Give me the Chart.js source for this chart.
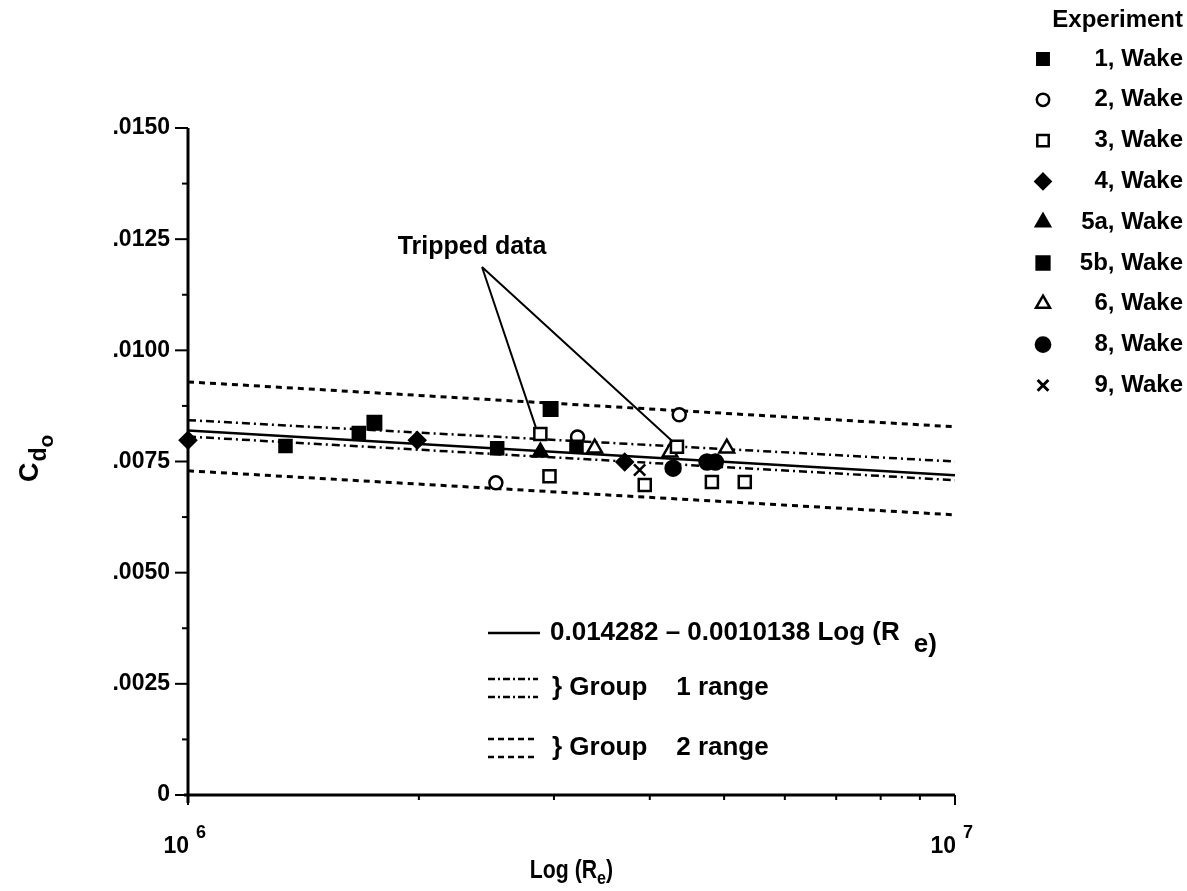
<!DOCTYPE html>
<html>
<head>
<meta charset="utf-8">
<title>Cdo vs Log(Re)</title>
<script src="https://cdn.jsdelivr.net/npm/chart.js@4.4.1/dist/chart.umd.min.js"></script>
<style>
  html, body { margin: 0; padding: 0; background: #fff; }
  #wrap { position: relative; width: 1187px; height: 891px; }
</style>
</head>
<body>
<div id="wrap"><canvas id="cdChart" width="1187" height="891"></canvas></div>
<script>
// Wake survey drag coefficients, one pair of arrays per experiment
const exp1Re = [1.34e6, 1.67e6, 2.53e6, 3.21e6];
const exp1Cd = [0.00785, 0.00814, 0.0078, 0.00783];
const exp2Re = [2.52e6, 3.22e6, 4.37e6];
const exp2Cd = [0.00702, 0.00805, 0.00855];
const exp3Re = [2.88e6, 2.96e6, 3.94e6, 4.34e6, 4.82e6, 5.32e6];
const exp3Cd = [0.00812, 0.00717, 0.00697, 0.00783, 0.00704, 0.00704];
const exp4Re = [1.0e6, 1.99e6, 3.71e6];
const exp4Cd = [0.00798, 0.00798, 0.00749];
const exp5aRe = [2.88e6];
const exp5aCd = [0.00771];
const exp5bRe = [1.75e6, 2.97e6];
const exp5bCd = [0.00837, 0.00868];
const exp6Re = [3.39e6, 4.25e6, 5.04e6];
const exp6Cd = [0.0078, 0.00771, 0.0078];
const exp8Re = [4.29e6, 4.75e6, 4.87e6];
const exp8Cd = [0.00735, 0.00749, 0.00749];
const exp9Re = [3.88e6];
const exp9Cd = [0.00731];

// Curve fit and band limits at both ends of the Re axis
const lineRe = [1e6, 1e7];
const fitCd = [0.0082, 0.00719];
const group1UpperCd = [0.00843, 0.0075];
const group1LowerCd = [0.00806, 0.00708];
const group2UpperCd = [0.00929, 0.00828];
const group2LowerCd = [0.00729, 0.0063];

// Tripped runs called out by the annotation
const trippedRe = [2.88e6, 4.34e6];
const trippedCd = [0.00812, 0.00783];

const legendLabels = ["1, Wake", "2, Wake", "3, Wake", "4, Wake", "5a, Wake", "5b, Wake", "6, Wake", "8, Wake", "9, Wake"];
const fitLabel = "0.014282 \u2013 0.0010138 Log (R";
const group1Label = "} Group    1 range";
const group2Label = "} Group    2 range";

const FONT = '"Liberation Sans", Arial, Helvetica, sans-serif';
const INK = "#000";

function boldFont(size) {
  return "bold " + size + "px " + FONT;
}

function toPoints(xs, ys) {
  return xs.map((x, i) => ({ x: x, y: ys[i] }));
}

// marker look per experiment (same order as legendLabels)
const markerStyles = [
  { pointStyle: "rect", radius: 8.5, fill: INK },
  { pointStyle: "circle", radius: 6.5, fill: "#fff" },
  { pointStyle: "rect", radius: 8.5, fill: "#fff" },
  { pointStyle: "rectRot", radius: 8, fill: INK },
  { pointStyle: "triangle", radius: 8.5, fill: INK },
  { pointStyle: "rect", radius: 9.5, fill: INK },
  { pointStyle: "triangle", radius: 8.5, fill: "#fff" },
  { pointStyle: "circle", radius: 7.5, fill: INK },
  { pointStyle: "crossRot", radius: 8, fill: INK },
];

const seriesPoints = [
  toPoints(exp1Re, exp1Cd),
  toPoints(exp2Re, exp2Cd),
  toPoints(exp3Re, exp3Cd),
  toPoints(exp4Re, exp4Cd),
  toPoints(exp5aRe, exp5aCd),
  toPoints(exp5bRe, exp5bCd),
  toPoints(exp6Re, exp6Cd),
  toPoints(exp8Re, exp8Cd),
  toPoints(exp9Re, exp9Cd),
];

function scatterSet(i) {
  const s = markerStyles[i];
  return {
    type: "scatter",
    label: legendLabels[i],
    data: seriesPoints[i],
    pointStyle: s.pointStyle,
    pointRadius: s.radius,
    pointHoverRadius: s.radius,
    pointBorderWidth: 2.5,
    pointBorderColor: INK,
    pointBackgroundColor: s.fill,
    clip: false,
    order: 0,
  };
}

function lineSet(label, ys, dash, width) {
  return {
    type: "line",
    label: label,
    data: toPoints(lineRe, ys),
    borderColor: INK,
    borderWidth: width,
    borderDash: dash,
    pointRadius: 0,
    fill: false,
    order: 1,
  };
}

// Small marker painter for the side legend
function drawMarker(ctx, style, x, y, scale) {
  const r = style.radius * scale;
  ctx.save();
  ctx.lineWidth = 2.5;
  ctx.strokeStyle = INK;
  ctx.fillStyle = style.fill;
  ctx.beginPath();
  if (style.pointStyle === "circle") {
    ctx.arc(x, y, r, 0, Math.PI * 2);
  } else if (style.pointStyle === "rect") {
    const h = r * Math.SQRT1_2;
    ctx.rect(x - h, y - h, 2 * h, 2 * h);
  } else if (style.pointStyle === "rectRot") {
    ctx.moveTo(x, y - r);
    ctx.lineTo(x + r, y);
    ctx.lineTo(x, y + r);
    ctx.lineTo(x - r, y);
    ctx.closePath();
  } else if (style.pointStyle === "triangle") {
    ctx.moveTo(x, y - r);
    ctx.lineTo(x + r * 0.866, y + r * 0.5);
    ctx.lineTo(x - r * 0.866, y + r * 0.5);
    ctx.closePath();
  } else if (style.pointStyle === "crossRot") {
    const h = r * Math.SQRT1_2;
    ctx.moveTo(x - h, y - h);
    ctx.lineTo(x + h, y + h);
    ctx.moveTo(x + h, y - h);
    ctx.lineTo(x - h, y + h);
    ctx.lineWidth = 3;
    ctx.stroke();
    ctx.restore();
    return;
  }
  ctx.fill();
  ctx.stroke();
  ctx.restore();
}

function drawSample(ctx, x0, x1, y, dash, width) {
  ctx.save();
  ctx.strokeStyle = INK;
  ctx.lineWidth = width;
  ctx.setLineDash(dash);
  ctx.beginPath();
  ctx.moveTo(x0, y);
  ctx.lineTo(x1, y);
  ctx.stroke();
  ctx.restore();
}

// Axes, ticks, titles, legends and the "Tripped data" callout
const decorations = {
  id: "decorations",
  afterDraw(chart) {
    const ctx = chart.ctx;
    const xs = chart.scales.x;
    const ys = chart.scales.y;
    const area = chart.chartArea;

    ctx.save();
    ctx.strokeStyle = INK;
    ctx.fillStyle = INK;

    // axis lines
    ctx.lineWidth = 3;
    ctx.beginPath();
    ctx.moveTo(area.left, area.top);
    ctx.lineTo(area.left, area.bottom + 8);
    ctx.moveTo(area.left - 4, area.bottom);
    ctx.lineTo(area.right, area.bottom);
    ctx.stroke();

    // y ticks: long at labelled values, short in between
    ctx.lineWidth = 2;
    ys.ticks.forEach((t) => {
      const py = ys.getPixelForValue(t.value);
      const major = Math.round(t.value / 0.00125) % 2 === 0;
      ctx.beginPath();
      ctx.moveTo(area.left - (major ? 13 : 6), py);
      ctx.lineTo(area.left, py);
      ctx.stroke();
    });

    // x ticks at whole multiples of 10^6 only
    xs.ticks.forEach((t) => {
      const m = t.value / 1e6;
      if (Math.abs(m - Math.round(m)) > 1e-6) return;
      const px = xs.getPixelForValue(t.value);
      const decade = m === 1 || m === 10;
      ctx.beginPath();
      ctx.moveTo(px, area.bottom);
      ctx.lineTo(px, area.bottom + (decade ? 10 : 5));
      ctx.stroke();
    });

    // decade labels 10^6 and 10^7
    ctx.textBaseline = "alphabetic";
    [1e6, 1e7].forEach((v) => {
      const px = xs.getPixelForValue(v);
      ctx.font = boldFont(23);
      ctx.textAlign = "right";
      ctx.fillText("10", px + 1, area.bottom + 58);
      ctx.textAlign = "left";
      ctx.font = boldFont(18);
      ctx.fillText(String(Math.round(Math.log10(v))), px + 8, area.bottom + 43);
    });

    // x title with subscript, slightly condensed
    const midX = (area.left + area.right) / 2;
    ctx.save();
    ctx.translate(midX, 878);
    ctx.scale(0.85, 1);
    ctx.font = boldFont(25);
    ctx.textAlign = "left";
    const base = "Log (R";
    const wBase = ctx.measureText(base).width;
    ctx.font = boldFont(19);
    const wSub = ctx.measureText("e").width;
    ctx.font = boldFont(25);
    const wEnd = ctx.measureText(")").width;
    const startX = -(wBase + wSub + wEnd) / 2;
    ctx.fillText(base, startX, 0);
    ctx.font = boldFont(19);
    ctx.fillText("e", startX + wBase, 6);
    ctx.font = boldFont(25);
    ctx.fillText(")", startX + wBase + wSub, 0);
    ctx.restore();

    // y title C d o, rotated
    ctx.save();
    ctx.translate(38, 482);
    ctx.rotate(-Math.PI / 2);
    ctx.textAlign = "left";
    ctx.font = boldFont(27);
    ctx.fillText("C", 0, 0);
    const wC = ctx.measureText("C").width;
    ctx.font = boldFont(23);
    ctx.fillText("d", wC + 1, 8);
    const wd = ctx.measureText("d").width;
    ctx.font = boldFont(21);
    ctx.fillText("o", wC + wd + 1, 15);
    ctx.restore();

    // side legend
    ctx.font = boldFont(24);
    ctx.textAlign = "right";
    ctx.textBaseline = "middle";
    ctx.fillText("Experiment", 1183, 20);
    legendLabels.forEach((label, i) => {
      const y = 59 + i * 40.8;
      drawMarker(ctx, markerStyles[i], 1043, y, 0.95);
      ctx.fillStyle = INK;
      ctx.fillText(label, 1183, y);
    });

    // in-plot line legend
    ctx.font = boldFont(26);
    ctx.textAlign = "left";
    drawSample(ctx, 488, 540, 633, [], 2.5);
    ctx.fillText(fitLabel, 550, 633);
    const wFit = ctx.measureText(fitLabel).width;
    ctx.fillText("e)", 550 + wFit + 14, 645);

    drawSample(ctx, 488, 538, 679, [7, 3, 2, 3], 2.5);
    drawSample(ctx, 488, 538, 697, [7, 3, 2, 3], 2.5);
    ctx.fillText(group1Label, 552, 688);

    drawSample(ctx, 488, 538, 739, [6, 4], 2.5);
    drawSample(ctx, 488, 538, 757, [6, 4], 2.5);
    ctx.fillText(group2Label, 552, 748);

    // tripped data callout
    ctx.font = boldFont(25);
    ctx.textAlign = "center";
    ctx.fillText("Tripped data", 472, 247);
    ctx.lineWidth = 2;
    ctx.beginPath();
    trippedRe.forEach((re, i) => {
      ctx.moveTo(482, 267);
      ctx.lineTo(xs.getPixelForValue(re) - 4, ys.getPixelForValue(trippedCd[i]) - 5);
    });
    ctx.stroke();

    ctx.restore();
  },
};

const datasets = [];
for (let i = 0; i < legendLabels.length; i++) datasets.push(scatterSet(i));
datasets.push(lineSet("fit", fitCd, [], 2.5));
datasets.push(lineSet("group 1 upper", group1UpperCd, [8, 4, 2, 4], 2.5));
datasets.push(lineSet("group 1 lower", group1LowerCd, [8, 4, 2, 4], 2.5));
datasets.push(lineSet("group 2 upper", group2UpperCd, [6, 5], 3));
datasets.push(lineSet("group 2 lower", group2LowerCd, [6, 5], 3));

const cdChart = new Chart(document.getElementById("cdChart"), {
  type: "scatter",
  data: { datasets: datasets },
  options: {
    responsive: false,
    animation: false,
    layout: { padding: { top: 128, right: 232, left: 0, bottom: 0 } },
    plugins: {
      legend: { display: false },
      tooltip: { enabled: false },
    },
    scales: {
      x: {
        type: "logarithmic",
        min: 1e6,
        max: 1e7,
        grid: { display: false, drawTicks: false },
        border: { display: false },
        ticks: { autoSkip: false, callback: () => "" },
        afterFit: (scale) => {
          scale.height = 96;
        },
      },
      y: {
        min: 0,
        max: 0.015,
        grid: { display: false, drawTicks: false },
        border: { display: false },
        ticks: {
          stepSize: 0.00125,
          autoSkip: false,
          padding: 18,
          color: INK,
          font: { family: FONT, size: 23, weight: "bold" },
          callback: (value) => {
            const n = Math.round(value / 0.00125);
            if (n % 2 !== 0) return "";
            if (n === 0) return "0";
            return "." + String(Math.round(value * 10000)).padStart(4, "0");
          },
        },
        afterFit: (scale) => {
          scale.width = 188;
        },
      },
    },
  },
  plugins: [decorations],
});
</script>
</body>
</html>
